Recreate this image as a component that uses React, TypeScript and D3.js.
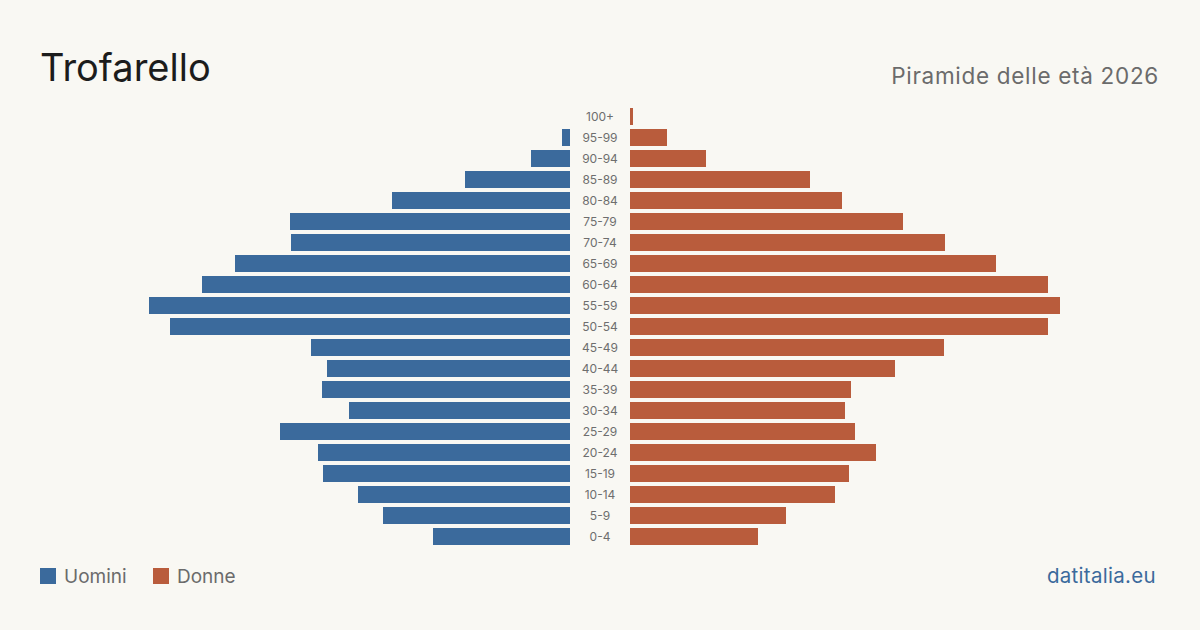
import React from "react";
import * as d3 from "d3";

// Age groups, oldest first (top of the pyramid)
const ageGroups = [
  "100+", "95-99", "90-94", "85-89", "80-84", "75-79", "70-74", "65-69",
  "60-64", "55-59", "50-54", "45-49", "40-44", "35-39", "30-34", "25-29",
  "20-24", "15-19", "10-14", "5-9", "0-4",
];

// Residents by age group
const men = [
  0, 8, 39, 105, 178, 280, 279, 335, 368, 421, 400, 259, 243, 248, 221, 290,
  252, 247, 212, 187, 137,
];
const women = [
  3, 37, 76, 180, 212, 273, 315, 366, 418, 430, 418, 314, 265, 221, 215, 225,
  246, 219, 205, 156, 128,
];

const title = "Trofarello";
const subtitle = "Piramide delle età 2026";
const legendLabels = ["Uomini", "Donne"];
const source = "datitalia.eu";

const W = 1200;
const H = 630;
const BLUE = "#3b6a9c";
const ORANGE = "#b95c3c";
const BG = "#f9f8f3";
const FONT = "Inter, 'Noto Sans', sans-serif";

export default function App() {
  const centerX = 600;
  const gap = 30;
  const maxW = 430;
  const maxVal = d3.max([...men, ...women]) as number;
  const x = d3.scaleLinear().domain([0, maxVal]).range([0, maxW]);
  const y = d3
    .scaleBand<string>()
    .domain(ageGroups)
    .range([106, 547])
    .paddingInner(4 / 21)
    .paddingOuter(2 / 21);
  const bh = y.bandwidth();

  return (
    <svg
      width={W}
      height={H}
      viewBox={`0 0 ${W} ${H}`}
      style={{ display: "block", position: "absolute", left: 0, top: 0, background: BG }}
      fontFamily={FONT}
    >
      <rect x={0} y={0} width={W} height={H} fill={BG} />
      <text x={40} y={81} fontSize={38} fill="#1c1c1c" fontWeight={400}>
        {title}
      </text>
      <text
        x={1159}
        y={84}
        fontSize={22.5}
        letterSpacing={0.7}
        fill="#6b6b6b"
        textAnchor="end"
      >
        {subtitle}
      </text>

      {ageGroups.map((g, i) => {
        const yy = y(g) as number;
        const wm = x(men[i]);
        const ww = x(women[i]);
        return (
          <g key={g}>
            {wm > 0 && (
              <rect x={centerX - gap - wm} y={yy} width={wm} height={bh} fill={BLUE} />
            )}
            {ww > 0 && (
              <rect x={centerX + gap} y={yy} width={ww} height={bh} fill={ORANGE} />
            )}
            <text
              x={centerX}
              y={yy + bh / 2 + 4.3}
              fontSize={12}
              fill="#6e6e6e"
              textAnchor="middle"
            >
              {g}
            </text>
          </g>
        );
      })}

      <rect x={40} y={568} width={16} height={16} fill={BLUE} />
      <text x={64} y={583} fontSize={19} fill="#6b6b6b">
        {legendLabels[0]}
      </text>
      <rect x={153} y={568} width={16} height={16} fill={ORANGE} />
      <text x={177} y={583} fontSize={19} fill="#6b6b6b">
        {legendLabels[1]}
      </text>

      <text
        x={1156}
        y={583}
        fontSize={20.5}
        letterSpacing={0.3}
        fill="#3b6a9c"
        textAnchor="end"
      >
        {source}
      </text>
    </svg>
  );
}
